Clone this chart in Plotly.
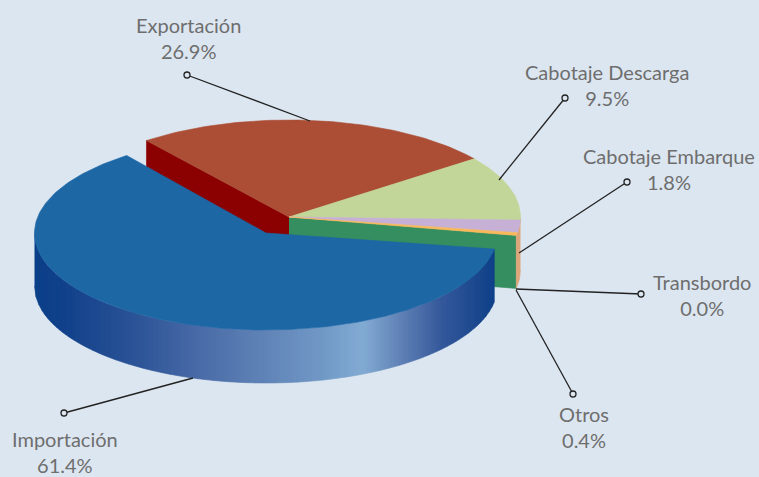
import numpy as np
import plotly.graph_objects as go

# ---- data ----
categories = ["Importación", "Exportación", "Cabotaje Descarga", "Cabotaje Embarque", "Otros", "Transbordo"]
shares = [61.4, 26.9, 9.5, 1.8, 0.4, 0.0]
share_labels = ["61.4%", "26.9%", "9.5%", "1.8%", "0.4%", "0.0%"]

# ---- style / layout ----
W, H = 759, 477
BG = "#DCE6F0"
TOP_COLORS = {"Importación": "#1D67A5", "Exportación": "#AB4E35", "Cabotaje Descarga": "#C3D699",
              "Cabotaje Embarque": "#C6B0D6", "Otros": "#F9B95A", "Transbordo": "#F9B95A"}
RX, RY, DEPTH = 231.5, 97.0, 53.0
FRONT_C = (266.0, 233.0)
BACK_C = (289.0, 217.0)
START = 127.0
RIM_X = [33, 60, 130, 200, 260, 320, 362, 400, 440, 470, 496]
RIM_C = ["#0A3F88", "#10408A", "#2A5296", "#4A6CA8", "#5F82B6", "#7098C6", "#82ABD3",
         "#5F80B5", "#34589A", "#1F4A90", "#0B3F88"]
CALLOUTS = {  # label centre, knob, line end on the pie
    "Exportación": ((188, 38), (187, 75), (310, 121)),
    "Cabotaje Descarga": ((607, 85), (565, 98), (499, 180)),
    "Cabotaje Embarque": ((669, 169), (627, 182), (519, 253)),
    "Transbordo": ((702, 295), (641, 294), (516, 289)),
    "Otros": ((584, 427), (573, 394), (516, 290)),
    "Importación": ((65, 452), (64, 413), (193, 378)),
}

fig = go.Figure()


def ell(c, t):
    t = np.radians(t)
    return c[0] + RX * np.cos(t), c[1] - RY * np.sin(t)


def poly(x, y, color):
    fig.add_trace(go.Scatter(x=list(x), y=list(y), mode="lines", fill="toself", fillcolor=color,
                             line=dict(color=color, width=0.6), hoverinfo="skip", showlegend=False))


def view(t, span):
    # the drawing's slight perspective: slices at the back appear a little wider
    return t + 1 + 7 * np.sin(np.pi * (t - (START - span)) / span)


# back group: everything except Importación, clockwise from the cut
back_span = sum(shares[1:]) * 3.6
edges = [START]
for s in shares[1:]:
    edges.append(edges[-1] - s * 3.6)
edges = [view(e, back_span) for e in edges]
t_start, t_end = edges[0], edges[-1]

# cut faces
x0, y0 = ell(BACK_C, t_end)
poly([BACK_C[0], x0, x0, BACK_C[0]], [BACK_C[1], y0, y0 + DEPTH, BACK_C[1] + DEPTH], "#358E5F")
x0, y0 = ell(BACK_C, t_start)
poly([BACK_C[0], x0, x0, BACK_C[0]], [BACK_C[1], y0, y0 + DEPTH, BACK_C[1] + DEPTH], "#8B0000")

# outer rim of the back group, visible just right of the front
ts = np.linspace(0, t_end, 12)
xa, ya = ell(BACK_C, ts)
poly(np.r_[xa, xa[::-1]], np.r_[ya, (ya + DEPTH)[::-1]], "#DDA67A")

# top faces
for name, a, b in zip(categories[1:], edges[:-1], edges[1:]):
    if a - b < 0.01:
        continue
    ts = np.linspace(a, b, 80)
    xa, ya = ell(BACK_C, ts)
    poly(np.r_[BACK_C[0], xa, BACK_C[0]], np.r_[BACK_C[1], ya, BACK_C[1]], TOP_COLORS[name])

# front slice: Importación
front_end = START + shares[0] * 3.6 * 1.011
xs = np.arange(RIM_X[0], RIM_X[-1] + 1, 3.0)
rim_r = np.interp(xs, RIM_X, [int(c[1:3], 16) for c in RIM_C])
rim_g = np.interp(xs, RIM_X, [int(c[3:5], 16) for c in RIM_C])
rim_b = np.interp(xs, RIM_X, [int(c[5:7], 16) for c in RIM_C])
ts = np.degrees(np.arccos(np.clip((xs - FRONT_C[0]) / RX, -1, 1)))
ts = 360 - ts
ts = np.minimum(ts, front_end)
for i in range(len(xs) - 1):
    tt = np.linspace(ts[i], ts[i + 1], 3)
    xa, ya = ell(FRONT_C, tt)
    poly(np.r_[xa, xa[::-1]], np.r_[ya, (ya + DEPTH)[::-1]],
         f"rgb({rim_r[i]:.0f},{rim_g[i]:.0f},{rim_b[i]:.0f})")

ts = np.linspace(START, front_end, 240)
xa, ya = ell(FRONT_C, ts)
poly(np.r_[FRONT_C[0], xa, FRONT_C[0]], np.r_[FRONT_C[1], ya, FRONT_C[1]], TOP_COLORS["Importación"])

# callouts
for name, pct in zip(categories, share_labels):
    label, knob, end = CALLOUTS[name]
    fig.add_trace(go.Scatter(x=[knob[0], end[0]], y=[knob[1], end[1]], mode="lines",
                             line=dict(color="#222222", width=1.3), hoverinfo="skip", showlegend=False))
    fig.add_trace(go.Scatter(x=[knob[0]], y=[knob[1]], mode="markers",
                             marker=dict(size=6, color=BG, line=dict(color="#222222", width=1.3)),
                             hoverinfo="skip", showlegend=False))
    fig.add_annotation(x=label[0], y=label[1], text=f"{name}<br>{pct}", showarrow=False,
                       xanchor="center", yanchor="middle", align="center",
                       font=dict(family="Lato", size=20, color="#6E6E6E"))

fig.update_layout(width=W, height=H, margin=dict(l=0, r=0, t=0, b=0), autosize=False,
                  paper_bgcolor=BG, plot_bgcolor=BG,
                  xaxis=dict(range=[0, W], visible=False, fixedrange=True),
                  yaxis=dict(range=[H, 0], visible=False, fixedrange=True))
fig.write_html("out.html", config={"displayModeBar": False},
               post_script="document.body.style.margin='0';document.body.style.overflow='hidden';document.documentElement.style.background='#DCE6F0';")
